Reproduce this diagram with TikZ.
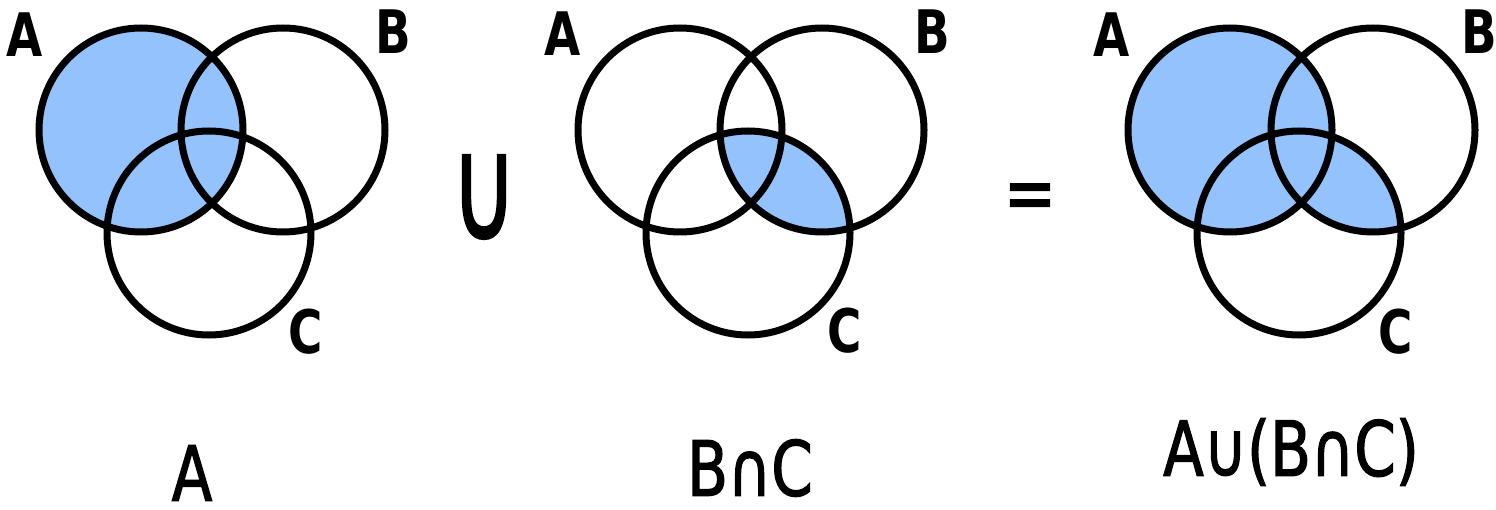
\documentclass[tikz,border=0pt]{standalone}
\usepackage{fontspec}
\newfontfamily\hand[FakeStretch=0.78]{DejaVu Sans}
\newfontfamily\handm[FakeStretch=0.78,FakeBold=1.6]{DejaVu Sans}
\definecolor{vennblue}{RGB}{147,194,253}
\begin{document}
\begin{tikzpicture}[x=1pt,y=-1pt,
  ring/.style={line width=7pt,draw=black},
  setlab/.style={font=\hand\bfseries\fontsize{60}{60}\selectfont,inner sep=0pt},
  biglab/.style={font=\handm\fontsize{76}{76}\selectfont,inner sep=0pt},
  oplab/.style={font=\handm\fontsize{100}{100}\selectfont,inner sep=0pt}]
\useasboundingbox (0,0) rectangle (1496,510);

% ---------- diagram 1 : A ----------
\fill[vennblue] (141,130) circle (102);
\draw[ring] (141,130) circle (102);
\draw[ring] (283,130) circle (102);
\draw[ring] (209,233) circle (102);
\node[setlab] (a1) at (25,35) {A};
\node[setlab] (b1) at (393,32) {B};
\node[setlab] (c1) at (306,332) {C};
\node[biglab] (t1) at (192,473) {A};

% ---------- union sign ----------
\node[oplab] (cup) at (484,197) {\scalebox{1.15}[1.45]{∪}};

% ---------- diagram 2 : B cap C ----------
\begin{scope}
  \clip (822,130) circle (102);
  \fill[vennblue] (748,233) circle (102);
\end{scope}
\draw[ring] (680,130) circle (102);
\draw[ring] (822,130) circle (102);
\draw[ring] (748,233) circle (102);
\node[setlab] (a2) at (563,34) {A};
\node[setlab] (b2) at (932,32) {B};
\node[setlab] (c2) at (845,331) {C};
\node[biglab] (t2) at (750,468) {B∩C};

% ---------- equals sign ----------
\node[oplab,font=\handm\fontsize{80}{80}\selectfont] (eq) at (1030,202) {=};

% ---------- diagram 3 : A cup (B cap C) ----------
\fill[vennblue] (1230,130) circle (102);
\begin{scope}
  \clip (1373,130) circle (102);
  \fill[vennblue] (1299,233) circle (102);
\end{scope}
\draw[ring] (1230,130) circle (102);
\draw[ring] (1373,130) circle (102);
\draw[ring] (1299,233) circle (102);
\node[setlab] (a3) at (1112,35) {A};
\node[setlab] (b3) at (1479,32) {B};
\node[setlab] (c3) at (1396,332) {C};
\node[biglab] (t3) at (1291,452) {A∪(B∩C)};
\end{tikzpicture}
\end{document}
